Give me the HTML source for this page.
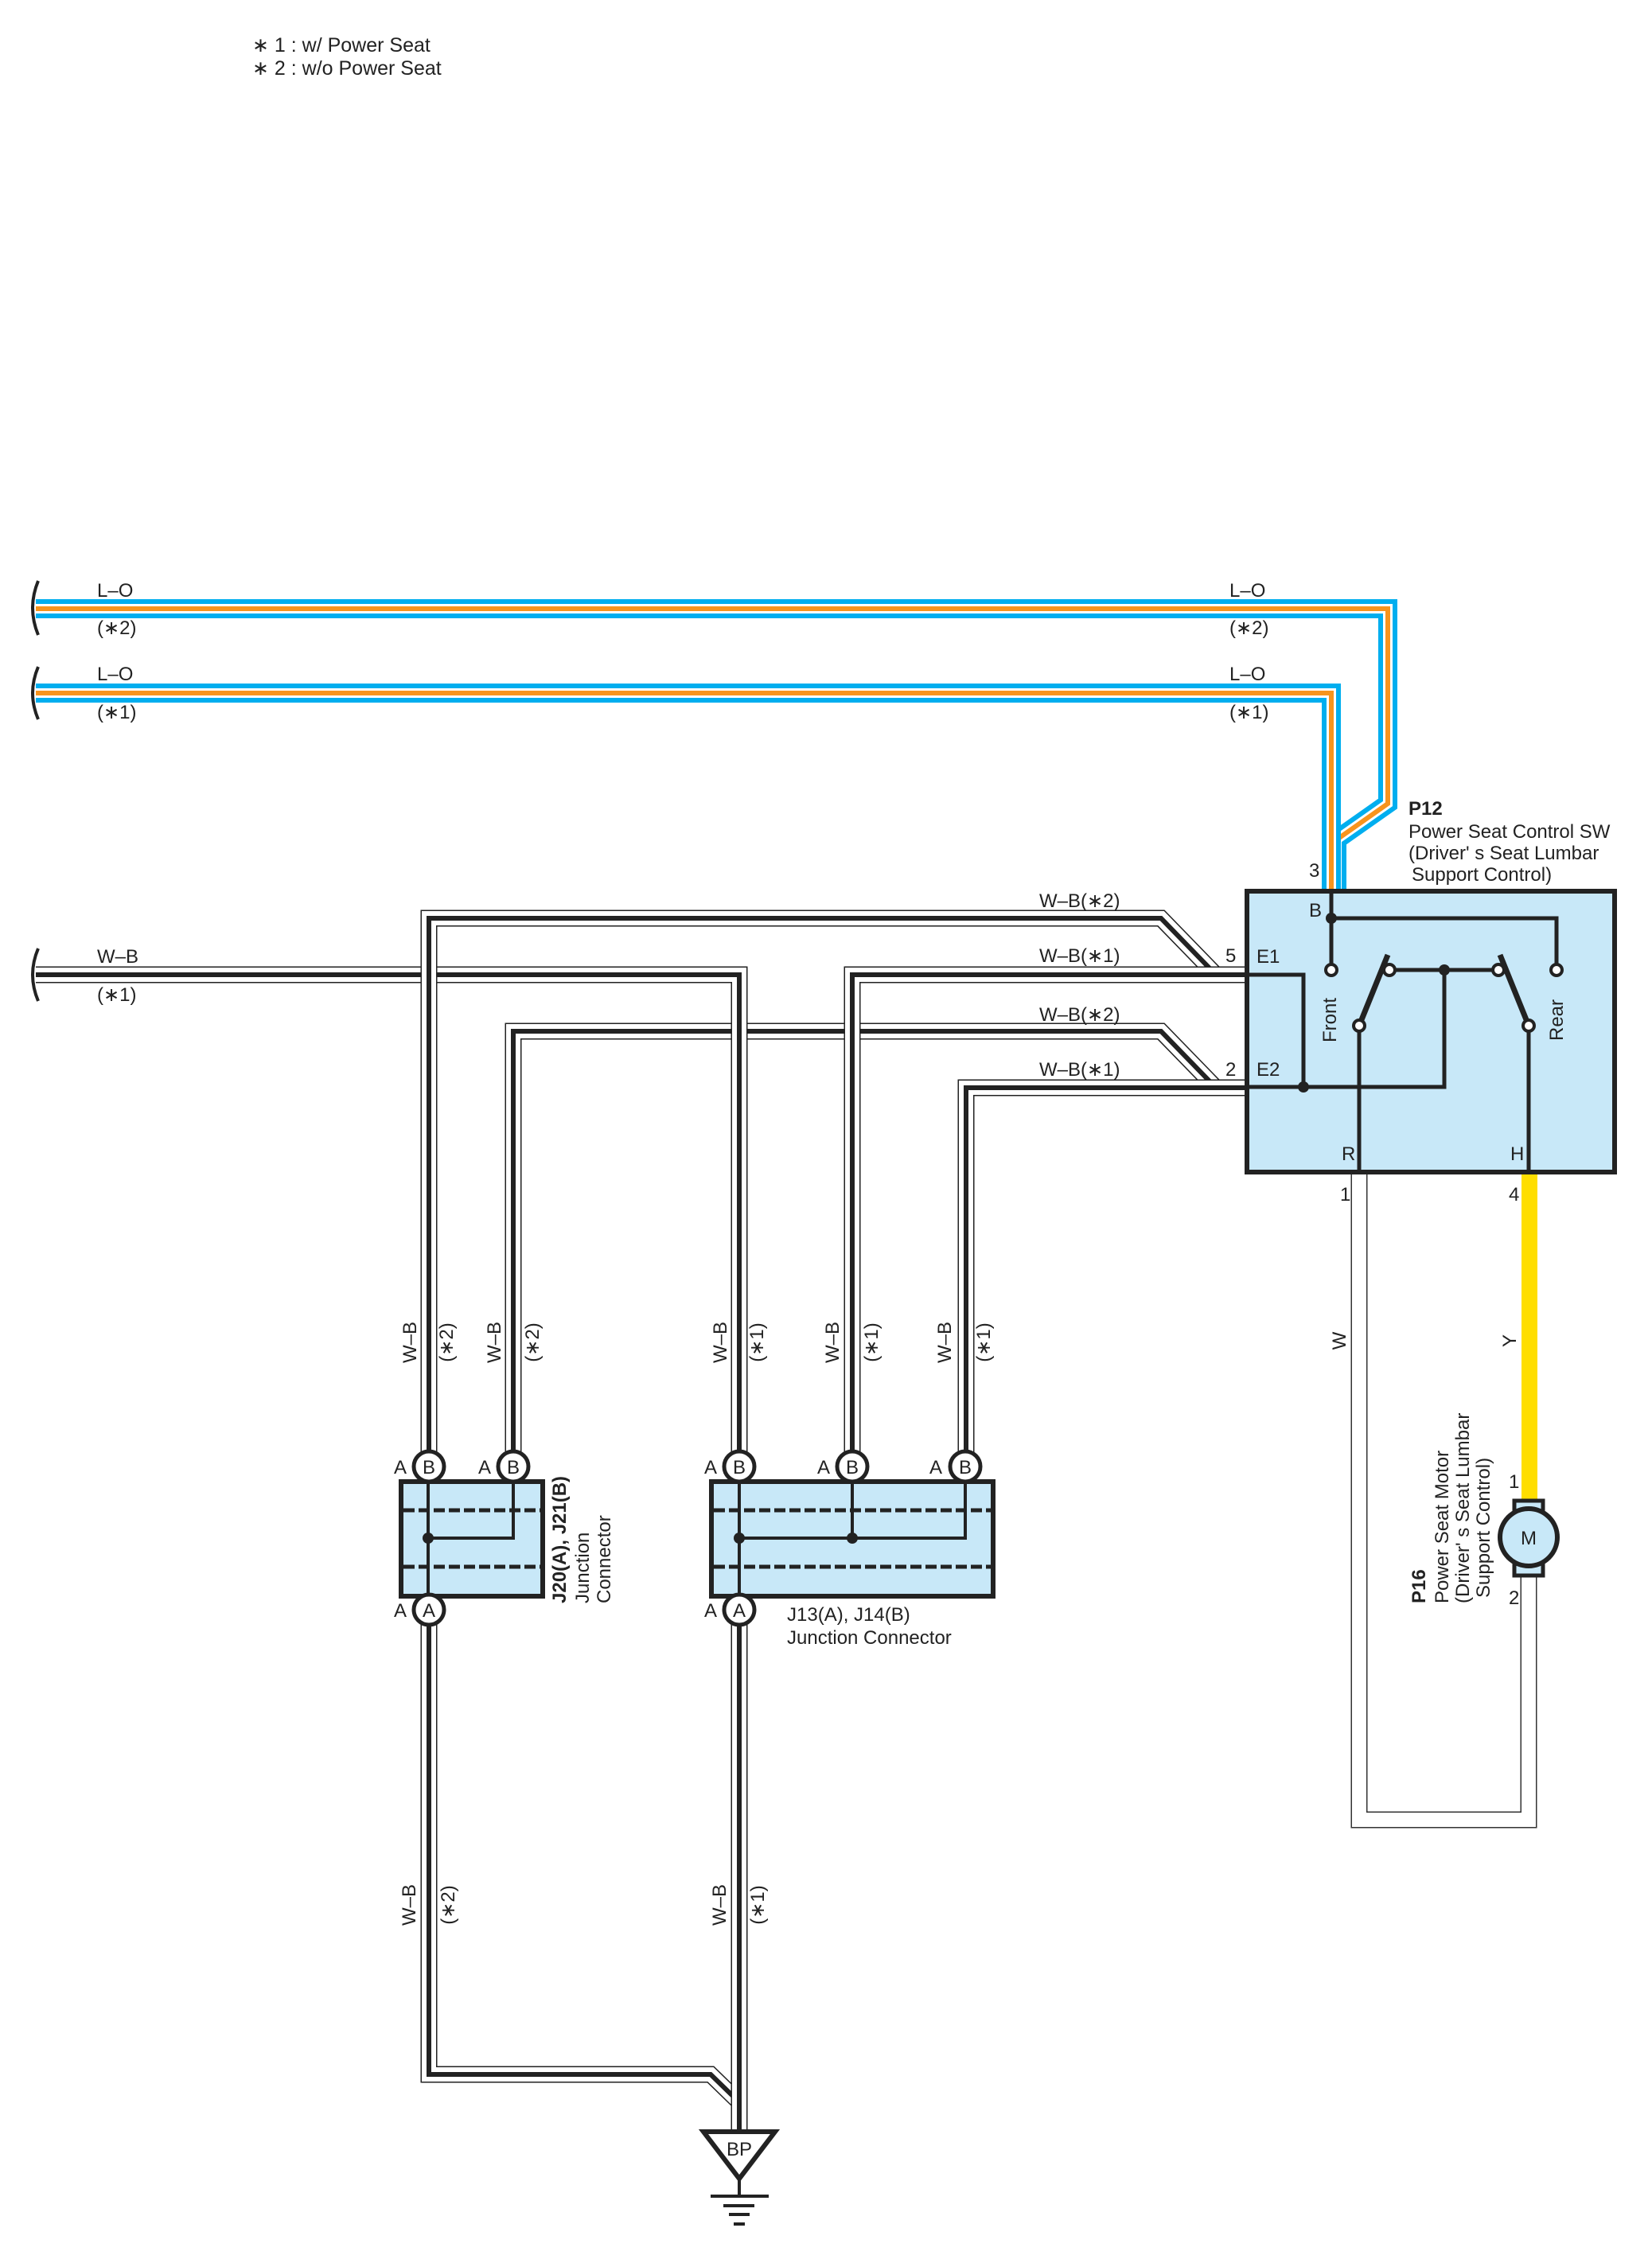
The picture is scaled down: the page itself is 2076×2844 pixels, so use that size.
<!DOCTYPE html>
<html><head><meta charset="utf-8"><style>
html,body{margin:0;padding:0;background:#fff}
svg{display:block}
text{font-family:"Liberation Sans",sans-serif;fill:#222}
</style></head><body>
<svg width="2076" height="2844" viewBox="0 0 2076 2844" xmlns="http://www.w3.org/2000/svg">
<defs>
<path id="wA" d="M645,1843 L645,1296 L1459,1296 L1528,1367 L1566,1367"/>
<path id="wB" d="M45,1225 L929,1225 L929,1843"/>
<path id="wC" d="M539,1843 L539,1154 L1459,1154 L1528,1225 L1566,1225"/>
<path id="wD" d="M1566,1225 L1071,1225 L1071,1843"/>
<path id="wE" d="M1566,1367 L1214,1367 L1214,1843"/>
<path id="wF" d="M539,2023 L539,2607 L893,2607 L929,2642 L929,2677"/>
<path id="wG" d="M929,2023 L929,2677"/>
<path id="lo1" d="M45,765 L1744,765 L1744,1010 L1680,1055 L1680,1118"/>
<path id="lo2" d="M45,871 L1673,871 L1673,1118"/>
</defs>
<g fill="none" stroke-linejoin="miter">
<use href="#lo1" stroke="#00aeef" stroke-width="24"/><use href="#lo1" stroke="#fff" stroke-width="12"/><use href="#lo1" stroke="#f7941d" stroke-width="6"/>
<use href="#lo2" stroke="#00aeef" stroke-width="24"/><use href="#lo2" stroke="#fff" stroke-width="12"/><use href="#lo2" stroke="#f7941d" stroke-width="6"/>
<use href="#wA" stroke="#222" stroke-width="21"/><use href="#wA" stroke="#fff" stroke-width="18"/><use href="#wA" stroke="#222" stroke-width="6"/>
<use href="#wB" stroke="#222" stroke-width="21"/><use href="#wB" stroke="#fff" stroke-width="18"/><use href="#wB" stroke="#222" stroke-width="6"/>
<use href="#wC" stroke="#222" stroke-width="21"/><use href="#wC" stroke="#fff" stroke-width="18"/><use href="#wC" stroke="#222" stroke-width="6"/>
<use href="#wD" stroke="#222" stroke-width="21"/><use href="#wD" stroke="#fff" stroke-width="18"/><use href="#wD" stroke="#222" stroke-width="6"/>
<use href="#wE" stroke="#222" stroke-width="21"/><use href="#wE" stroke="#fff" stroke-width="18"/><use href="#wE" stroke="#222" stroke-width="6"/>
<use href="#wF" stroke="#222" stroke-width="21"/><use href="#wF" stroke="#fff" stroke-width="18"/><use href="#wF" stroke="#222" stroke-width="6"/>
<use href="#wG" stroke="#222" stroke-width="21"/><use href="#wG" stroke="#fff" stroke-width="18"/><use href="#wG" stroke="#222" stroke-width="6"/>
<path d="M1708,1473 L1708,2287 L1921,2287 L1921,1980" stroke="#333" stroke-width="21"/>
<path d="M1708,1473 L1708,2287 L1921,2287 L1921,1980" stroke="#fff" stroke-width="18"/>
<path d="M1922,1476 L1922,1888" stroke="#ffde00" stroke-width="20"/>
<path d="M48,730 Q34,764 48,798" stroke="#222" stroke-width="4"/>
<path d="M48,838 Q34,871 48,904" stroke="#222" stroke-width="4"/>
<path d="M48,1192 Q34,1225 48,1258" stroke="#222" stroke-width="4"/>
</g>

<rect x="1567" y="1120" width="462" height="353" fill="#c8e8f8" stroke="#222" stroke-width="6"/>
<g fill="none" stroke="#222" stroke-width="5">
<path d="M1673,1120 L1673,1212"/>
<path d="M1673,1154 L1956,1154 L1956,1212"/>
<path d="M1568,1225 L1638,1225 L1638,1366"/>
<path d="M1568,1366 L1815,1366 L1815,1219"/>
<path d="M1751,1219 L1878,1219"/>
<path d="M1708,1289 L1744,1200" stroke-width="7"/>
<path d="M1921,1289 L1885,1200" stroke-width="7"/>
<path d="M1708,1296 L1708,1473"/>
<path d="M1921,1296 L1921,1473"/>
</g>
<g fill="#fff" stroke="#222" stroke-width="4">
<circle cx="1673" cy="1219" r="7"/><circle cx="1956" cy="1219" r="7"/>
<circle cx="1746" cy="1219" r="7"/><circle cx="1883" cy="1219" r="7"/>
<circle cx="1708" cy="1289" r="7"/><circle cx="1921" cy="1289" r="7"/>
</g>
<g fill="#222"><circle cx="1673" cy="1154" r="7"/><circle cx="1815" cy="1219" r="7"/><circle cx="1638" cy="1366" r="7"/></g>

<rect x="504" y="1862" width="178" height="144" fill="#c8e8f8" stroke="#222" stroke-width="6"/>
<rect x="894" y="1862" width="354" height="144" fill="#c8e8f8" stroke="#222" stroke-width="6"/>
<g stroke="#222" stroke-width="5" stroke-dasharray="14,5" fill="none">
<path d="M507,1898 H679 M507,1969 H679 M897,1898 H1245 M897,1969 H1245"/>
</g>
<g stroke="#222" stroke-width="4" fill="none">
<path d="M538,1862 V2006 M538,1933 H645 V1862"/>
<path d="M929,1862 V2006 M929,1933 H1213 V1862 M1071,1862 V1933"/>
</g>
<g fill="#222"><circle cx="538" cy="1933" r="7"/><circle cx="929" cy="1933" r="7"/><circle cx="1071" cy="1933" r="7"/></g>
<g fill="#fff" stroke="#222" stroke-width="5">
<ellipse cx="539" cy="1843" rx="19" ry="19"/><ellipse cx="645" cy="1843" rx="19" ry="19"/>
<ellipse cx="929" cy="1843" rx="19" ry="19"/><ellipse cx="1071" cy="1843" rx="19" ry="19"/><ellipse cx="1213" cy="1843" rx="19" ry="19"/>
<ellipse cx="539" cy="2023" rx="19" ry="19"/><ellipse cx="929" cy="2023" rx="19" ry="19"/>
</g>
<g font-size="24" text-anchor="middle">
<text x="539" y="1852">B</text><text x="645" y="1852">B</text><text x="929" y="1852">B</text><text x="1071" y="1852">B</text><text x="1213" y="1852">B</text>
<text x="539" y="2032">A</text><text x="929" y="2032">A</text>
<text x="503" y="1852">A</text><text x="609" y="1852">A</text><text x="893" y="1852">A</text><text x="1035" y="1852">A</text><text x="1176" y="1852">A</text>
<text x="503" y="2032">A</text><text x="893" y="2032">A</text>
</g>

<rect x="1903" y="1886" width="36" height="94" fill="#c8e8f8" stroke="#222" stroke-width="5"/>
<circle cx="1921" cy="1932" r="36" fill="#c8e8f8" stroke="#222" stroke-width="6"/>
<text x="1921" y="1941" font-size="24" text-anchor="middle">M</text>

<path d="M884,2679 L974,2679 L929,2738 Z" fill="#fff" stroke="#222" stroke-width="6" stroke-linejoin="miter"/>
<text x="929" y="2709" font-size="24" text-anchor="middle">BP</text>
<g stroke="#222" stroke-width="4"><path d="M929,2738 V2760 M893,2760 H966 M909,2772 H948 M916,2783 H942 M922,2795 H936"/></g>

<g font-size="25">
<text x="317" y="65">∗ 1 : w/ Power Seat</text>
<text x="317" y="94">∗ 2 : w/o Power Seat</text>
</g>
<g font-size="24">
<text x="122" y="750">L–O</text><text x="122" y="797">(∗2)</text>
<text x="122" y="855">L–O</text><text x="122" y="903">(∗1)</text>
<text x="1545" y="750">L–O</text><text x="1545" y="797">(∗2)</text>
<text x="1545" y="855">L–O</text><text x="1545" y="903">(∗1)</text>
<text x="122" y="1210">W–B</text><text x="122" y="1258">(∗1)</text>
<text x="1306" y="1140">W–B(∗2)</text><text x="1306" y="1209">W–B(∗1)</text>
<text x="1306" y="1283">W–B(∗2)</text><text x="1306" y="1352">W–B(∗1)</text>
<text x="1540" y="1209">5</text><text x="1540" y="1352">2</text>
<text x="1579" y="1210">E1</text><text x="1579" y="1352">E2</text>
<text x="1645" y="1102">3</text>
<text x="1645" y="1152">B</text>
<text x="1686" y="1458">R</text><text x="1898" y="1458">H</text>
<text x="1684" y="1509">1</text><text x="1896" y="1509">4</text>
<text x="1896" y="1870">1</text><text x="1896" y="2016">2</text>
<text x="1770" y="1024" font-weight="bold">P12</text>
<text x="1770" y="1053">Power Seat Control SW</text>
<text x="1770" y="1080">(Driver' s Seat Lumbar</text>
<text x="1774" y="1107">Support Control)</text>
<text x="989" y="2037">J13(A), J14(B)</text>
<text x="989" y="2066">Junction Connector</text>
</g>
<g font-size="24" text-anchor="middle">
<text transform="translate(1679,1282) rotate(-90)">Front</text>
<text transform="translate(1964,1282) rotate(-90)">Rear</text>
<text transform="translate(523,1687) rotate(-90)">W–B</text>
<text transform="translate(569,1687) rotate(-90)">(∗2)</text>
<text transform="translate(629,1687) rotate(-90)">W–B</text>
<text transform="translate(677,1687) rotate(-90)">(∗2)</text>
<text transform="translate(913,1687) rotate(-90)">W–B</text>
<text transform="translate(959,1687) rotate(-90)">(∗1)</text>
<text transform="translate(1054,1687) rotate(-90)">W–B</text>
<text transform="translate(1103,1687) rotate(-90)">(∗1)</text>
<text transform="translate(1195,1687) rotate(-90)">W–B</text>
<text transform="translate(1244,1687) rotate(-90)">(∗1)</text>
<text transform="translate(522,2394) rotate(-90)">W–B</text>
<text transform="translate(571,2394) rotate(-90)">(∗2)</text>
<text transform="translate(912,2394) rotate(-90)">W–B</text>
<text transform="translate(960,2394) rotate(-90)">(∗1)</text>
<text transform="translate(1691,1685) rotate(-90)">W</text>
<text transform="translate(1905,1685) rotate(-90)">Y</text>
</g>
<g font-size="24">
<text transform="translate(711,2015) rotate(-90)" font-weight="bold">J20(A), J21(B)</text>
<text transform="translate(740,2015) rotate(-90)">Junction</text>
<text transform="translate(767,2015) rotate(-90)">Connector</text>
<text transform="translate(1791,2015) rotate(-90)" font-weight="bold">P16</text>
<text transform="translate(1820,2015) rotate(-90)">Power Seat Motor</text>
<text transform="translate(1846,2015) rotate(-90)">(Driver' s Seat Lumbar</text>
<text transform="translate(1872,2008) rotate(-90)">Support Control)</text>
</g>
</svg>
</body></html>
